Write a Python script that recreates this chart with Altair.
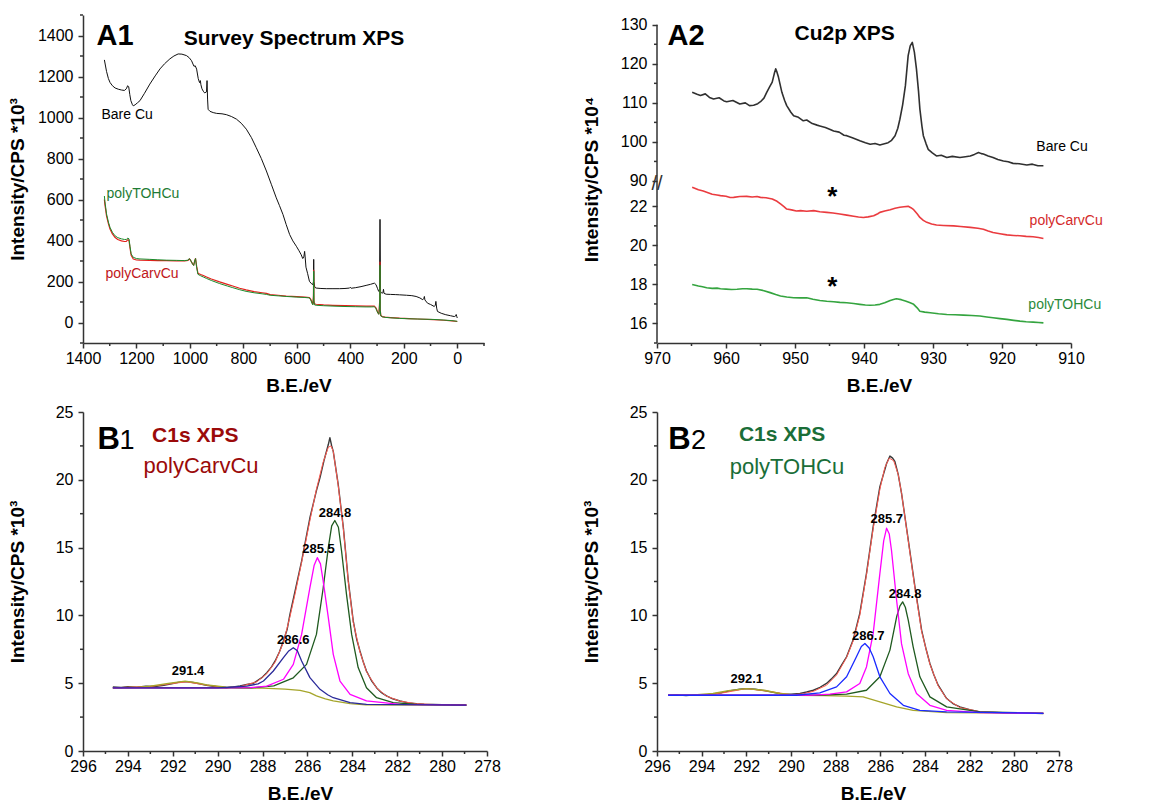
import altair as alt
import pandas as pd

FONT = "Liberation Sans"
AX = "#333333"

# ------------------------------------------------------------------ data
# Panel A1 : survey spectra (B.E. eV, intensity *10^3)
A1_BARE = [(1320,1281),(1312,1225),(1305,1190),(1299,1171),(1290,1155),(1280,1144),(1268,1138),(1256,1134),
           (1245,1132),(1238,1140),(1233,1155),(1229,1150),(1225,1112),(1221,1082),(1215,1062),(1212,1057),
           (1205,1062),(1196,1072),(1187,1082),(1170,1118),(1150,1163),(1130,1203),(1112,1237),(1095,1262),
           (1075,1286),(1060,1300),(1044,1310),(1030,1309),(1013,1302),(1003,1292),(994,1277),(985,1250),
           (980,1252),(975,1236),(969,1190),(964,1170),(961,1180),(959,1160),(955,1140),(950,1128),(945,1120),
           (938,1125),(936,1180),(934,1090),(932,1040),(925,1030),(913,1024),(900,1020),(880,1018),(864,1014),
           (845,1005),(826,992),(808,972),(789,943),(770,902),(752,853),(733,800),(714,739),(695,672),(677,608),
           (665,570),(652,527),(640,478),(627,429),(615,398),(602,372),(592,350),(584,331),(578,312),(574,320),
           (571,347),(569,320),(566,270),(560,240),(553,201),(546,190),(540,185),(538,200),(537,308),(536,200),
           (533,172),(528,168),(510,166),(490,165),(465,165),(440,165),(420,166),(403,168),(400,172),(397,167),
           (380,170),(360,175),(341,181),(325,186),(310,192),(304,185),(298,165),(294,152),(291,150),(289,503),
           (287,152),(284,145),(281,143),(278,145),(276,162),(274,142),(266,138),(250,137),(230,136),(216,135),
           (190,133),(170,131),(154,127),(140,120),(129,111),(125,118),(123,127),(121,110),(111,94),(100,88),
           (86,78),(82,85),(80,103),(77,70),(74,54),(60,45),(43,38),(25,33),(11,29),(6,32),(4,39),(2,30),(0,22)]
A1_CARV = [(1320,600),(1318,575),(1315,548),(1312,520),(1305,482),(1299,456),(1290,432),(1281,416),(1270,405),
           (1256,398),(1245,395),(1238,396),(1232,404),(1228,400),(1224,362),(1220,328),(1212,310),(1200,305),
           (1187,304),(1150,303),(1120,302),(1088,302),(1050,301),(1020,301),(1007,303),(1002,310),(998,304),
           (990,286),(986,280),(982,302),(979,312),(975,275),(970,240),(960,234),(950,229),(938,222),(920,212),
           (889,198),(860,186),(840,178),(814,167),(790,159),(760,151),(730,145),(714,142),(700,136),(670,133),
           (640,129),(600,126),(570,124),(553,122),(548,113),(543,97),(540,91),(538,130),(537,255),(536,105),
           (534,91),(528,89),(500,86),(465,84),(420,82),(380,81),(341,80),(320,80),(310,80),(305,73),(300,58),
           (297,47),(293,42),(290,110),(289,295),(288,62),(286,34),(281,29),(270,26),(250,24),(216,21),(180,19),
           (150,17),(90,14),(50,11),(20,8),(0,5)]
A1_TOH = [(1320,617),(1318,590),(1315,560),(1312,530),(1305,490),(1299,464),(1290,440),(1281,424),(1270,414),
          (1256,408),(1245,405),(1238,405),(1232,412),(1228,408),(1224,370),(1220,335),(1212,318),(1200,312),
          (1187,310),(1150,308),(1120,306),(1088,304),(1050,303),(1020,302),(1007,304),(1002,312),(998,305),
          (990,285),(986,278),(982,300),(979,312),(975,270),(970,235),(960,228),(950,222),(938,215),(920,205),
          (889,190),(860,178),(840,170),(814,160),(790,152),(760,145),(730,140),(714,137),(700,133),(670,130),
          (640,127),(600,124),(570,122),(553,120),(548,110),(543,92),(540,86),(538,120),(537,250),(536,100),
          (534,86),(528,84),(500,82),(465,80),(420,78),(380,77),(341,76),(320,76),(310,77),(305,70),(300,55),
          (297,45),(293,40),(290,100),(289,280),(288,60),(286,32),(281,28),(270,25),(250,23),(216,20),(180,18),
          (150,17),(90,15),(50,12),(20,9),(0,6)]

# Panel A2 : Cu2p (B.E. eV, intensity *10^4)
A2_BARE = [(964.9,112.7),(964.2,112.2),(963.7,111.9),(963.0,112.3),(962.4,111.4),(961.8,111.0),(961.0,111.3),
           (960.3,110.5),(959.9,110.3),(959.0,110.6),(958.0,109.7),(957.2,110.0),(956.6,109.3),(956.0,109.4),
           (955.4,109.8),(955.0,110.3),(954.5,111.2),(954.1,112.7),(953.7,114.0),(953.3,115.3),(953.0,117.5),
           (952.8,118.7),(952.6,117.8),(952.4,116.6),(951.9,112.7),(951.5,110.6),(951.2,109.3),(950.6,107.6),
           (950.2,106.7),(949.5,106.3),(948.8,105.4),(948.3,105.6),(947.5,104.7),(946.8,104.3),(946.4,104.1),
           (945.6,103.7),(944.9,103.2),(944.4,102.8),(943.6,102.5),(942.9,101.7),(942.5,101.6),(941.6,101.0),
           (940.6,100.3),(939.8,99.8),(939.1,99.4),(938.4,99.6),(937.7,99.2),(936.9,99.6),(936.5,99.8),
           (936.0,100.4),(935.5,101.6),(935.1,103.5),(934.8,105.8),(934.4,109.5),(934.0,114.4),(933.6,122.1),
           (933.3,124.6),(933.0,125.5),(932.7,123.0),(932.4,118.7),(932.1,113.0),(931.9,108.4),(931.6,104.0),
           (931.4,101.6),(931.0,99.5),(930.7,98.1),(930.1,97.2),(929.5,96.4),(928.8,96.6),(928.0,96.0),
           (927.2,96.3),(926.1,96.0),(925.3,96.2),(924.6,96.4),(924.0,96.8),(923.4,97.3),(923.0,97.0),
           (922.7,96.9),(922.0,96.4),(921.3,96.0),(920.6,95.5),(919.8,95.1),(919.1,94.9),(918.4,94.5),
           (917.5,94.4),(916.4,94.1),(915.6,94.3),(914.8,93.9),(914.0,93.9)]
A2_CARV = [(964.9,22.98),(964.0,22.85),(963.3,22.78),(962.8,22.72),(962.0,22.62),(961.3,22.58),(960.8,22.55),
           (960.0,22.52),(959.4,22.45),(958.9,22.46),(958.0,22.50),(957.0,22.51),(956.2,22.48),(955.5,22.50),
           (955.0,22.46),(954.2,22.44),(953.3,22.38),(952.6,22.26),(952.1,22.12),(951.6,21.98),(951.2,21.86),
           (950.5,21.82),(949.8,21.76),(949.2,21.78),(948.3,21.75),(947.3,21.78),(946.4,21.72),(945.4,21.69),
           (944.5,21.66),(943.5,21.61),(942.5,21.55),(941.5,21.49),(940.8,21.45),(940.1,21.43),(939.4,21.46),
           (938.6,21.52),(938.0,21.62),(937.7,21.69),(937.0,21.76),(936.2,21.83),(935.5,21.90),(934.8,21.95),
           (934.2,21.98),(933.6,22.00),(933.2,21.93),(932.8,21.83),(932.3,21.62),(931.9,21.43),(931.4,21.28),
           (930.9,21.18),(930.2,21.10),(929.5,21.04),(928.5,21.02),(927.0,21.00),(926.0,20.97),(924.6,20.92),
           (923.5,20.88),(922.7,20.83),(922.0,20.74),(921.3,20.66),(920.3,20.60),(919.3,20.54),(918.3,20.51),
           (917.4,20.49),(916.5,20.46),(915.5,20.44),(914.7,20.40),(914.0,20.35)]
A2_TOH = [(964.9,18.00),(964.0,17.92),(963.4,17.88),(962.8,17.83),(962.0,17.80),(961.3,17.81),(960.8,17.78),
          (960.0,17.76),(959.2,17.74),(958.4,17.75),(957.6,17.78),(957.0,17.78),(956.2,17.76),(955.5,17.75),
          (954.5,17.68),(953.6,17.58),(952.8,17.48),(952.1,17.41),(951.2,17.36),(950.2,17.32),(949.2,17.31),
          (948.3,17.32),(947.4,17.24),(946.4,17.18),(945.4,17.14),(944.4,17.11),(943.5,17.08),(942.5,17.06),
          (941.5,17.02),(940.6,16.98),(939.8,16.95),(939.1,16.93),(938.4,16.95),(937.7,16.98),(937.0,17.06),
          (936.2,17.18),(935.6,17.24),(935.3,17.27),(934.6,17.22),(934.0,17.15),(933.4,17.07),(932.8,16.98),
          (932.3,16.80),(931.9,16.63),(931.2,16.58),(930.4,16.55),(929.2,16.50),(928.0,16.46),(926.8,16.45),
          (925.6,16.43),(924.4,16.41),(923.2,16.38),(922.2,16.33),(921.3,16.29),(920.3,16.25),(919.3,16.21),
          (918.3,16.16),(917.4,16.12),(916.5,16.09),(915.5,16.07),(914.7,16.05),(914.0,16.03)]

# Panel B1 : C1s polyCarvCu (B.E. eV, intensity *10^3)
B1_RAW = [(294.67,4.72),(294.3,4.68),(294.0,4.75),(293.6,4.70),(293.2,4.78),(292.8,4.76),(292.4,4.85),
          (292.0,4.98),(291.7,5.08),(291.4,5.12),(291.1,5.05),(290.8,4.95),(290.5,4.85),(290.2,4.78),
          (289.9,4.70),(289.6,4.66),(289.3,4.72),(289.0,4.80),(288.7,4.90),(288.4,5.00),(288.26,5.16),
          (288.0,5.45),(287.81,5.78),(287.6,6.2),(287.44,6.64),(287.25,7.3),(287.07,8.11),(286.9,9.0),
          (286.78,10.08),(286.55,11.8),(286.26,14.0),(285.89,17.2),(285.6,19.2),(285.44,20.16),(285.25,21.5),
          (285.07,22.6),(285.0,23.1),(284.92,22.5),(284.85,22.1),(284.63,19.67),(284.4,16.47),(284.18,12.54),
          (283.96,9.59),(283.8,8.2),(283.66,7.37),(283.5,6.5),(283.37,5.9),(283.15,5.2),(282.92,4.67),
          (282.7,4.3),(282.48,4.06),(282.2,3.85),(281.88,3.69),(281.5,3.55),(281.14,3.49),(280.8,3.45),
          (280.4,3.44),(280.0,3.42),(279.5,3.40),(278.92,3.39)]
B1_FIT = [(294.67,4.66),(293.0,4.76),(292.0,4.98),(291.4,5.1),(290.5,4.86),(289.6,4.68),(289.0,4.75),
          (288.26,5.1),(287.81,5.7),(287.44,6.55),(287.07,8.0),(286.78,9.9),(286.55,11.6),(286.26,13.9),
          (285.89,17.0),(285.6,19.3),(285.3,21.3),(285.07,22.4),(284.95,22.5),(284.85,22.1),(284.63,19.6),
          (284.4,16.4),(284.18,12.5),(283.96,9.5),(283.66,7.3),(283.37,5.85),(282.92,4.65),(282.48,4.05),
          (281.88,3.68),(281.14,3.48),(280.4,3.43),(278.92,3.39)]
B1_P2914 = [(294.67,4.66),(293.5,4.70),(293.0,4.79),(292.2,4.98),(291.45,5.16),(290.9,5.02),(290.48,4.87),
            (289.6,4.70),(289.0,4.66),(288.0,4.64),(287.0,4.57),(286.33,4.47),(285.9,4.30),(285.6,4.06),
            (285.2,3.85),(284.85,3.69),(284.1,3.49),(283.4,3.40),(278.92,3.39)]
B1_P2848 = [(294.67,4.66),(290.0,4.66),(288.5,4.66),(287.5,4.80),(286.63,5.4),(286.04,6.39),(285.6,8.6),
            (285.3,12.0),(285.07,15.0),(284.92,16.6),(284.78,17.0),(284.62,16.5),(284.48,14.75),(284.26,11.55),
            (284.03,8.6),(283.74,6.15),(283.37,4.67),(282.92,3.93),(282.18,3.56),(281.14,3.44),(278.92,3.39)]
B1_P2855 = [(294.67,4.66),(290.0,4.66),(288.55,4.67),(287.81,4.79),(287.07,5.29),(286.63,6.39),(286.26,8.6),
            (285.89,12.05),(285.7,13.7),(285.56,14.26),(285.42,13.8),(285.3,12.54),(285.07,9.83),(284.85,7.13),
            (284.55,5.16),(284.1,4.18),(283.37,3.69),(281.88,3.44),(278.92,3.39)]
B1_P2866 = [(294.67,4.66),(292.0,4.66),(290.0,4.66),(289.3,4.72),(288.7,4.79),(288.2,4.95),(287.96,5.16),
            (287.52,5.9),(287.07,6.88),(286.85,7.35),(286.63,7.62),(286.45,7.4),(286.26,6.64),(285.89,5.41),
            (285.44,4.55),(285.1,4.15),(284.85,3.93),(284.1,3.56),(283.37,3.44),(278.92,3.39)]

# Panel B2 : C1s polyTOHCu
B2_RAW = [(295.5,4.11),(295.1,4.15),(294.7,4.08),(294.3,4.14),(293.9,4.12),(293.5,4.20),(293.1,4.30),
          (292.7,4.45),(292.3,4.55),(292.0,4.60),(291.6,4.55),(291.2,4.45),(290.8,4.32),(290.4,4.20),
          (290.0,4.18),(289.6,4.24),(289.3,4.35),(289.0,4.48),(288.7,4.70),(288.41,4.98),(288.2,5.3),
          (287.96,5.71),(287.75,6.3),(287.51,6.95),(287.22,8.18),(286.92,10.15),(286.62,13.1),(286.32,16.55),
          (286.02,19.5),(285.72,21.2),(285.57,21.75),(285.45,21.6),(285.35,21.35),(285.2,20.4),(285.05,19.0),
          (284.75,15.57),(284.45,12.1),(284.15,8.9),(283.95,7.5),(283.78,6.45),(283.6,5.6),(283.41,4.85),
          (283.2,4.3),(283.03,3.87),(282.75,3.5),(282.44,3.25),(282.0,3.05),(281.54,2.88),(281.0,2.85),
          (280.5,2.82),(280.05,2.81),(279.4,2.79),(278.7,2.76)]
B2_FIT = [(295.5,4.11),(294.0,4.11),(293.0,4.30),(292.0,4.60),(291.0,4.40),(290.0,4.15),(289.5,4.20),
          (289.0,4.40),(288.41,4.85),(287.96,5.6),(287.51,6.9),(287.22,8.1),(286.92,10.0),(286.62,13.0),
          (286.32,16.4),(286.02,19.3),(285.8,20.9),(285.6,21.6),(285.4,21.4),(285.2,20.4),(285.05,19.0),
          (284.75,15.5),(284.45,12.0),(284.15,8.8),(283.78,6.4),(283.41,4.8),(283.03,3.85),(282.44,3.2),
          (281.54,2.9),(280.0,2.8),(278.7,2.78)]
B2_P2921 = [(295.5,4.11),(294.98,4.11),(294.2,4.15),(293.49,4.24),(292.8,4.45),(292.0,4.60),(291.2,4.48),
            (290.5,4.24),(289.76,4.11),(288.5,4.09),(287.5,4.05),(286.77,3.99),(286.02,3.62),(285.27,3.25),
            (284.53,3.00),(283.03,2.83),(278.7,2.78)]
B2_P2848 = [(295.5,4.11),(289.0,4.11),(287.51,4.19),(286.62,4.48),(286.02,5.47),(285.57,7.44),(285.27,9.9),
            (285.12,10.7),(285.0,11.0),(284.88,10.6),(284.75,9.65),(284.53,7.68),(284.23,5.47),(283.78,3.99),
            (283.03,3.25),(281.54,2.88),(278.7,2.78)]
B2_P2857 = [(295.5,4.11),(290.0,4.11),(289.0,4.12),(288.26,4.19),(287.51,4.36),(286.92,4.98),(286.62,6.2),
            (286.32,8.67),(286.02,13.1),(285.85,15.5),(285.72,16.43),(285.6,16.0),(285.5,14.8),(285.27,11.1),
            (285.05,7.9),(284.75,5.7),(284.38,4.24),(283.78,3.37),(283.03,3.0),(281.54,2.83),(278.7,2.78)]
B2_P2867 = [(295.5,4.11),(290.0,4.11),(289.76,4.11),(288.71,4.29),(287.96,4.73),(287.51,5.47),(287.07,6.95),
            (286.85,7.7),(286.69,7.93),(286.5,7.6),(286.32,6.95),(286.02,5.47),(285.57,4.24),(284.97,3.37),
            (284.23,3.0),(283.03,2.88),(278.7,2.78)]

# tick values
A1_X_MAJOR = [1400, 1200, 1000, 800, 600, 400, 200, 0]
A1_X_MINOR = [1300, 1100, 900, 700, 500, 300, 100, -100]
A1_Y_MAJOR = [0, 200, 400, 600, 800, 1000, 1200, 1400]
A1_Y_MINOR = [-100, 100, 300, 500, 700, 900, 1100, 1300, 1500]
A2_X_MAJOR = [970, 960, 950, 940, 930, 920, 910]
A2_X_MINOR = [965, 955, 945, 935, 925, 915]
A2_Y_LOW_MAJOR = [16, 18, 20, 22]
A2_Y_LOW_MINOR = [15, 17, 19, 21]
A2_Y_UP_MAJOR = [90, 100, 110, 120, 130]
A2_Y_UP_MINOR = [95, 105, 115, 125]
B_X_MAJOR = [296, 294, 292, 290, 288, 286, 284, 282, 280, 278]
B_X_MINOR = [295, 293, 291, 289, 287, 285, 283, 281, 279]
B_Y_MAJOR = [0, 5, 10, 15, 20, 25]
B_Y_MINOR = [2.5, 7.5, 12.5, 17.5, 22.5]

# broken-axis mapping for A2 (upper segment compressed 5x, 90 sits at 23.3)
BREAK_AT = 23.3
UP_RATIO = 5.0


def up(v):
    return BREAK_AT + (v - 90) / UP_RATIO


# ------------------------------------------------------------------ helpers
def xaxis(values, title, width):
    return alt.Axis(values=values, title=title, format="d", tickSize=5, tickWidth=1.5, tickColor=AX,
                    domainColor=AX, domainWidth=1.5, labelFont=FONT, labelFontSize=16, labelColor="black",
                    labelPadding=2, labelFlush=False, labelOverlap=False, titleFont=FONT, titleFontSize=19,
                    titleFontWeight="bold", titleColor="black", titleX=width / 2 + 15, titleY=33,
                    titleBaseline="top", grid=False)


def yaxis(values, title, height, label_expr=None, domain=True):
    kw = dict(values=values, title=title, format="d", tickSize=5, tickWidth=1.5, tickColor=AX,
              domain=domain, domainColor=AX, domainWidth=1.5, labelFont=FONT, labelFontSize=16,
              labelColor="black", labelPadding=5, labelFlush=False, labelOverlap=False, titleFont=FONT,
              titleFontSize=19, titleFontWeight="bold", titleColor="black", titleX=-56, titleY=height / 2,
              titleBaseline="bottom", grid=False)
    if label_expr:
        kw["labelExpr"] = label_expr
    return alt.Axis(**kw)


class Frame:
    """scales and axes shared by every layer of one panel"""
    def __init__(self, xs, ys, xa, ya):
        self.xs, self.ys, self.xa, self.ya = xs, ys, xa, ya

    def X(self, f):
        return alt.X(f, scale=self.xs, axis=self.xa)

    def Y(self, f):
        return alt.Y(f, scale=self.ys, axis=self.ya)


def line(pairs, fr, color, width=1.0, calc=None, opacity=1.0):
    df = pd.DataFrame(pairs, columns=["x", "y"])
    df["i"] = range(len(df))
    ch = alt.Chart(df)
    yfield = "y"
    if calc:
        ch = ch.transform_calculate(t=calc)
        yfield = "t"
    return ch.mark_line(color=color, strokeWidth=width, strokeJoin="round", opacity=opacity).encode(
        x=fr.X("x:Q"), y=fr.Y(f"{yfield}:Q"), order="i:Q")


def minor_x(values, fr, h):
    df = pd.DataFrame({"x": values})
    return alt.Chart(df).mark_rule(color=AX, strokeWidth=1.5).encode(
        x=fr.X("x:Q"), y=alt.value(h), y2=alt.value(h + 3))


def minor_y(values, fr):
    df = pd.DataFrame({"y": values})
    return alt.Chart(df).mark_rule(color=AX, strokeWidth=1.5).encode(
        y=fr.Y("y:Q"), x=alt.value(0), x2=alt.value(-3))


def texts(rows, fr):
    layers = []
    for (x, y, s, size, color, weight) in rows:
        df = pd.DataFrame({"x": [x], "y": [y], "s": [s]})
        layers.append(alt.Chart(df).mark_text(font=FONT, fontSize=size, color=color, fontWeight=weight,
                                              align="center", baseline="middle").encode(
            x=fr.X("x:Q"), y=fr.Y("y:Q"), text="s:N"))
    return layers


# ------------------------------------------------------------------ A1
W1, H1 = 401, 328
f1 = Frame(alt.Scale(domain=[-100, 1400], reverse=True, nice=False, zero=False),
           alt.Scale(domain=[-100, 1500], nice=False, zero=False),
           xaxis(A1_X_MAJOR, "B.E./eV", W1), yaxis(A1_Y_MAJOR, "Intensity/CPS *10³", H1))
A1_LABELS = [(1280, 1398, "A1", 29, "black", "bold"),
             (611, 1383, "Survey Spectrum XPS", 21, "black", "bold"),
             (1235, 1012, "Bare Cu", 14, "black", "normal"),
             (1176, 627, "polyTOHCu", 14, "#1e7b35", "normal"),
             (1179, 237, "polyCarvCu", 14, "#c0161a", "normal")]
a1 = alt.layer(
    line(A1_BARE, f1, "#111111", 1.0),
    line(A1_CARV, f1, "#e3201b", 1.2),
    line(A1_TOH, f1, "#1a8a2a", 1.0),
    minor_x(A1_X_MINOR, f1, H1),
    minor_y(A1_Y_MINOR, f1),
    *texts(A1_LABELS, f1),
).properties(width=W1, height=H1)

# ------------------------------------------------------------------ A2
W2, H2 = 414, 328
A2_VALUES = A2_Y_LOW_MAJOR + [up(v) for v in A2_Y_UP_MAJOR]
A2_EXPR = (f"datum.value > {BREAK_AT - 0.1} ? format(round((datum.value - {BREAK_AT}) * {UP_RATIO} + 90), 'd')"
           " : format(datum.value, 'd')")
f2 = Frame(alt.Scale(domain=[910, 970], reverse=True, nice=False, zero=False),
           alt.Scale(domain=[15, 31.8], nice=False, zero=False),
           xaxis(A2_X_MAJOR, "B.E./eV", W2),
           yaxis(A2_VALUES, "Intensity/CPS *10⁴", H2, label_expr=A2_EXPR, domain=False))
A2_LABELS = [(965.8, 30.72, "A2", 29, "black", "bold"),
             (942.8, 30.83, "Cu2p XPS", 21, "black", "bold"),
             (911.3, 25.04, "Bare Cu", 14, "black", "normal"),
             (910.7, 21.25, "polyCarvCu", 14, "#d42a2a", "normal"),
             (910.9, 16.94, "polyTOHCu", 14, "#2a8a3a", "normal"),
             (944.6, 22.48, "*", 26, "black", "bold"),
             (944.6, 17.87, "*", 26, "black", "bold")]
A2_AXIS_SPAN = pd.DataFrame({"y": [15], "y2": [up(130)]})
A2_BREAK = pd.DataFrame({"y": [23.12], "s": ["//"]})
a2 = alt.layer(
    line(A2_BARE, f2, "#1a1a1a", 1.6, calc=f"{BREAK_AT} + (datum.y - 90) / {UP_RATIO}", opacity=0.9),
    line(A2_CARV, f2, "#e8262a", 1.6, opacity=0.9),
    line(A2_TOH, f2, "#1e9a2a", 1.6, opacity=0.9),
    alt.Chart(A2_AXIS_SPAN).mark_rule(color=AX, strokeWidth=1.5).encode(
        x=alt.value(0), y=f2.Y("y:Q"), y2="y2:Q"),
    alt.Chart(A2_BREAK).mark_text(font=FONT, fontSize=20, color=AX, fontWeight="normal",
                                  align="center", baseline="middle").encode(
        x=alt.value(0), y=f2.Y("y:Q"), text="s:N"),
    minor_x(A2_X_MINOR, f2, H2),
    minor_y(A2_Y_LOW_MINOR + [up(v) for v in A2_Y_UP_MINOR], f2),
    *texts(A2_LABELS, f2),
).properties(width=W2, height=H2)

# ------------------------------------------------------------------ B panels
HB = 339


def c1s_panel(width, raw, fit, comps, labels, letter_x, digit, digit_x, head, sub, color):
    fr = Frame(alt.Scale(domain=[278, 296], reverse=True, nice=False, zero=False),
               alt.Scale(domain=[0, 25], nice=False, zero=False),
               xaxis(B_X_MAJOR, "B.E./eV", width), yaxis(B_Y_MAJOR, "Intensity/CPS *10³", HB))
    layers = [line(raw, fr, "#3a3a3a", 1.4), line(fit, fr, "#ff5a50", 1.0)]
    for pairs, col in comps:
        layers.append(line(pairs, fr, col, 1.3))
    layers += [minor_x(B_X_MINOR, fr, HB), minor_y(B_Y_MINOR, fr)]
    rows = [(x, y, s, 13, "black", "bold") for (x, y, s) in labels]
    rows += [(letter_x, 22.94, "B", 31, "black", "bold"),
             (digit_x, 22.86, digit, 27, "black", "normal"),
             (head[0], head[1], "C1s XPS", 21, color, "bold"),
             (sub[0], sub[1], sub[2], 22, color, "normal")]
    layers += texts(rows, fr)
    return alt.layer(*layers).properties(width=width, height=HB)


B1_PEAKS = [(291.32, 5.9, "291.4"), (286.63, 8.17, "286.6"), (285.51, 14.87, "285.5"), (284.77, 17.58, "284.8")]
B2_PEAKS = [(291.98, 5.29, "292.1"), (286.54, 8.48, "286.7"), (285.71, 17.09, "285.7"), (284.89, 11.6, "284.8")]

b1 = c1s_panel(404, B1_RAW, B1_FIT,
               [(B1_P2914, "#a5a52a"), (B1_P2848, "#1f5a1f"), (B1_P2855, "#ff00ff"), (B1_P2866, "#2a2a9a")],
               B1_PEAKS, 294.86, "1", 294.04, (291.0, 23.23), (290.74, 21.02, "polyCarvCu"), "#9b0a0a")
b2 = c1s_panel(402, B2_RAW, B2_FIT,
               [(B2_P2921, "#a5a52a"), (B2_P2848, "#1f5a1f"), (B2_P2857, "#ff00ff"), (B2_P2867, "#1a2aff")],
               B2_PEAKS, 294.99, "2", 294.14, (290.4, 23.3), (290.18, 20.94, "polyTOHCu"), "#1a6e38")

chart = alt.concat(a1, a2, b1, b2, columns=2, spacing={"row": 69, "column": 170}, bounds="flush").properties(
    padding={"left": 0, "top": 6, "right": 5, "bottom": 0}
).configure_view(stroke=None)

chart.save("out.html", embed_options={"renderer": "svg", "actions": False})
